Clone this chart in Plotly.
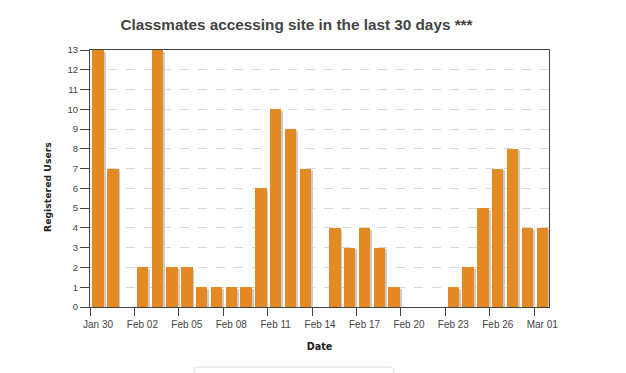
import plotly.graph_objects as go
import pandas as pd

dates = pd.date_range("2015-01-30", "2015-03-01", freq="D")
users = [13, 7, 0, 2, 13, 2, 2, 1, 1, 1, 1, 6, 10, 9, 7, 0,
         4, 3, 4, 3, 1, 0, 0, 0, 1, 2, 5, 7, 8, 4, 4]
tick_dates = pd.date_range("2015-01-30", "2015-03-01", freq="3D")
tick_labels = [d.strftime("%b %d") for d in tick_dates]
y_ticks = list(range(0, 14))

DAY_MS = 86400000
bar_x = dates + pd.Timedelta(hours=13)
shadow_x = dates + pd.Timedelta(hours=16)

fig = go.Figure()
fig.add_trace(go.Bar(
    x=shadow_x, y=users, base=[-0.08] * len(users), width=0.77 * DAY_MS,
    marker=dict(color="#cccccc", line=dict(width=0)), hoverinfo="skip", showlegend=False,
))
fig.add_trace(go.Bar(
    x=bar_x, y=users, width=0.77 * DAY_MS,
    marker=dict(color="#e38a24", line=dict(width=0)),
    showlegend=False,
))

fig.update_layout(
    width=626, height=373,
    margin=dict(l=90, r=77, t=50, b=66),
    paper_bgcolor="white", plot_bgcolor="white",
    barmode="overlay", bargap=0,
    font=dict(family="Liberation Sans, Arial, sans-serif", color="#444"),
    title=dict(
        text="<b>Classmates accessing site in the last 30 days ***</b>",
        x=296.5 / 626, xref="container", xanchor="center",
        y=1 - 25 / 373, yref="container", yanchor="middle",
        font=dict(family="Liberation Sans, Arial, sans-serif", size=15.3, color="#444"),
    ),
    xaxis=dict(
        type="date",
        range=[dates[0], dates[-1] + pd.Timedelta(days=1)],
        tickvals=tick_dates, ticktext=tick_labels,
        ticks="outside", ticklen=8, tickcolor="#444", tickwidth=1,
        ticklabelshift=8,
        tickfont=dict(size=10, color="#444"),
        showgrid=False, showline=True, linecolor="#444", linewidth=1,
        mirror=True, zeroline=False,
        title=dict(text="<b>Date</b>", standoff=14,
                   font=dict(family="DejaVu Sans, sans-serif", size=9.6, color="#222")),
    ),
    yaxis=dict(
        range=[0, 13], tickvals=y_ticks,
        ticks="outside", ticklen=9, tickcolor="#444", tickwidth=1,
        tickfont=dict(size=9.5, color="#444"),
        showgrid=True, gridcolor="#d8d8d8", griddash="dash", gridwidth=1,
        showline=True, linecolor="#444", linewidth=1, mirror=True, zeroline=False,
    ),
)


def px(x):
    return (x - 90) / 459


def py(y):
    return (307 - y) / 257


fig.add_annotation(
    text="<b>Registered Users</b>", textangle=-90,
    x=px(47), y=py(187), xref="paper", yref="paper", showarrow=False,
    xanchor="center", yanchor="middle",
    font=dict(family="DejaVu Sans, sans-serif", size=9.3, color="#222"),
)

p = (f"M {px(198)} {py(367)} L {px(390)} {py(367)} Q {px(394)} {py(367)} {px(394)} {py(371)} "
     f"L {px(394)} {py(380)} L {px(194)} {py(380)} L {px(194)} {py(371)} "
     f"Q {px(194)} {py(367)} {px(198)} {py(367)} Z")
fig.add_shape(type="path", path=p, xref="paper", yref="paper",
              line=dict(color="#dddddd", width=1), fillcolor="white")

fig.write_html("out.html", config={"displayModeBar": False},
               post_script="document.body.style.margin='0';")
